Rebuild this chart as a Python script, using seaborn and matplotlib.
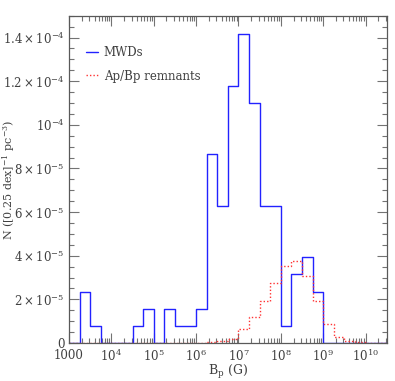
import numpy as np
import pandas as pd
import matplotlib
matplotlib.use("Agg")
import matplotlib.pyplot as plt
import matplotlib.ticker as mticker
import seaborn as sns

# bins: 0.25 dex, log10(B) from 3.0 to 10.5 (left edges)
bin_left = np.arange(3.0, 10.5, 0.25)

# density per bin, units of 1e-6 pc^-3 per 0.25 dex
mwd = [0, 23.6, 7.85, 0, 0, 0, 7.85, 15.7, 0, 15.7, 7.85, 7.85,
       15.7, 86.4, 62.8, 117.8, 141.4, 110.0, 62.8, 62.8,
       7.85, 31.4, 39.3, 23.6, 0, 0, 0, 0, 0, 0]
apbp = [0, 0, 0, 0, 0, 0, 0, 0, 0, 0, 0, 0,
        0.2, 0.4, 0.9, 1.8, 6.3, 11.8, 19.4, 27.4,
        35.1, 37.4, 30.8, 19.4, 8.6, 2.8, 0.7, 0.3, 0.15, 0.1]

xtick_exp = [3, 4, 5, 6, 7, 8, 9, 10]
xtick_labels = ["1000", r"$10^{4}$", r"$10^{5}$", r"$10^{6}$", r"$10^{7}$",
                r"$10^{8}$", r"$10^{9}$", r"$10^{10}$"]
ytick_vals = [0, 2e-5, 4e-5, 6e-5, 8e-5, 1e-4, 1.2e-4, 1.4e-4]
ytick_labels = ["0", r"$2\times10^{-5}$", r"$4\times10^{-5}$", r"$6\times10^{-5}$",
                r"$8\times10^{-5}$", r"$10^{-4}$", r"$1.2\times10^{-4}$",
                r"$1.4\times10^{-4}$"]

df = pd.DataFrame({
    "B": 10 ** (bin_left + 0.125),
    "MWDs": np.array(mwd) * 1e-6,
    "ApBp": np.array(apbp) * 1e-6,
})

sns.set_style("ticks")
plt.rcParams["font.family"] = ["DejaVu Serif"]
plt.rcParams["mathtext.fontset"] = "dejavuserif"

fig = plt.figure(figsize=(3.95, 3.81), dpi=100)
ax = fig.add_axes([0.1747, 0.0997, 0.8043, 0.8591])

sns.histplot(data=df, x="B", weights="MWDs", binwidth=0.25, binrange=(3.0, 10.5),
             log_scale=True, element="step", fill=False, color="#2222ff",
             linewidth=1.0, ax=ax, label="MWDs")
sns.histplot(data=df, x="B", weights="ApBp", binwidth=0.25, binrange=(3.0, 10.5),
             log_scale=True, element="step", fill=False, color="#ff3333",
             linewidth=1.0, linestyle=(0, (1, 1.5)), ax=ax, label="Ap/Bp remnants")

ax.set_xlim(1e3, 10 ** 10.5)
ax.set_ylim(0, 1.5e-4)

ax.set_xticks([10.0 ** e for e in xtick_exp])
ax.set_xticklabels(xtick_labels)
ax.xaxis.set_minor_locator(mticker.LogLocator(base=10, subs=np.arange(2, 10), numticks=20))
ax.xaxis.set_minor_formatter(mticker.NullFormatter())

ax.set_yticks(ytick_vals)
ax.set_yticklabels(ytick_labels)
ax.yaxis.set_minor_locator(mticker.MultipleLocator(5e-6))

ax.tick_params(which="both", direction="in", top=True, right=True, color="0.45",
               labelsize=8.5, labelcolor="0.25", width=0.8)
ax.tick_params(which="major", length=7)
ax.tick_params(which="minor", length=3.5)
ax.tick_params(axis="x", pad=4)
ax.tick_params(axis="y", pad=3)
for s in ax.spines.values():
    s.set_color("0.35")
    s.set_linewidth(0.9)

ax.set_xlabel(r"B$_{\rm p}$ (G)", fontsize=9, color="0.25", labelpad=-1)
ax.set_ylabel(r"N ([0.25 dex]$^{-1}$ pc$^{-3}$)", fontsize=8, color="0.25",
              va="center", ha="center")
ax.yaxis.set_label_coords(-0.19, 0.5)

ax.legend(loc="upper left", bbox_to_anchor=(0.02, 0.94), frameon=False,
          handlelength=1.0, handletextpad=0.5, labelspacing=0.9, fontsize=8.5,
          labelcolor="0.25")

fig.savefig("out.png", dpi=100)
